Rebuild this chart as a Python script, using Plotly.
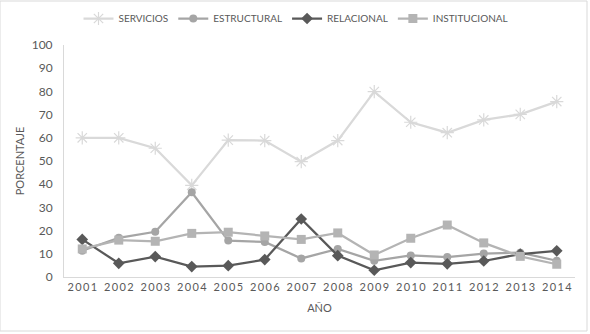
import plotly.graph_objects as go

years = ["2001", "2002", "2003", "2004", "2005", "2006", "2007",
         "2008", "2009", "2010", "2011", "2012", "2013", "2014"]

servicios = [60.0, 60.0, 55.5, 39.5, 59.0, 58.8, 49.7,
             58.8, 79.9, 66.7, 62.2, 67.7, 70.1, 75.6]
estructural = [11.3, 16.9, 19.5, 36.5, 15.7, 15.1, 8.0,
               12.1, 7.0, 9.3, 8.6, 10.1, 10.5, 7.0]
relacional = [16.2, 5.9, 8.8, 4.5, 4.9, 7.5, 25.0,
              9.2, 2.9, 6.2, 5.7, 6.9, 9.9, 11.3]
institucional = [12.1, 15.9, 15.4, 18.8, 19.3, 17.7, 16.2,
                 19.0, 9.5, 16.7, 22.4, 14.7, 8.9, 5.5]

y_ticks = [0, 10, 20, 30, 40, 50, 60, 70, 80, 90, 100]

# wide letter spacing on the year labels
year_labels = ["\u2009".join(y) for y in years]

FONT = "Lato, 'Open Sans', sans-serif"
TEXT = "#595959"

fig = go.Figure()

fig.add_trace(go.Scatter(
    x=years, y=servicios, name="SERVICIOS", mode="lines+markers",
    line=dict(color="#d9d9d9", width=2.25),
    marker=dict(symbol="asterisk-open", size=11,
                line=dict(color="#d9d9d9", width=1.2)),
))
fig.add_trace(go.Scatter(
    x=years, y=estructural, name="ESTRUCTURAL", mode="lines+markers",
    line=dict(color="#a5a5a5", width=2.25),
    marker=dict(symbol="circle", size=8, color="#a5a5a5"),
))
fig.add_trace(go.Scatter(
    x=years, y=relacional, name="RELACIONAL", mode="lines+markers",
    line=dict(color="#595959", width=2.25),
    marker=dict(symbol="diamond", size=9, color="#595959"),
))
fig.add_trace(go.Scatter(
    x=years, y=institucional, name="INSTITUCIONAL", mode="lines+markers",
    line=dict(color="#b4b4b4", width=2.25),
    marker=dict(symbol="square", size=9, color="#b4b4b4"),
))

fig.update_layout(
    width=590, height=334,
    margin=dict(l=64, r=15, t=45, b=57),
    paper_bgcolor="white", plot_bgcolor="white",
    font=dict(family=FONT, size=12, color=TEXT),
    showlegend=True,
    legend=dict(orientation="h", x=(296 - 64) / 511, xanchor="center",
                y=1 - 4 / 334, yanchor="top", yref="container",
                font=dict(size=10, color=TEXT), itemwidth=30,
                traceorder="normal"),
    xaxis=dict(
        type="category", tickmode="array", tickvals=years, ticktext=year_labels,
        range=[-0.5, len(years) - 0.5],
        showline=True, linecolor="#d9d9d9", linewidth=1, automargin=False,
        showgrid=False, ticks="", zeroline=False,
        tickfont=dict(size=11, color=TEXT),
        title=dict(text="AÑO", font=dict(size=11, color=TEXT), standoff=12),
    ),
    yaxis=dict(
        range=[0, 100], tickmode="array", tickvals=y_ticks,
        showline=True, linecolor="#d9d9d9", linewidth=1, automargin=False,
        showgrid=False, ticks="", zeroline=False,
        tickfont=dict(size=12, color=TEXT), ticklabelstandoff=8,
        title=dict(text="PORCENTAJE", font=dict(size=11, color=TEXT), standoff=4),
    ),
    shapes=[dict(type="rect", xref="paper", yref="paper",
                 x0=-64 / 511, x1=(511 + 12) / 511,
                 y0=-54 / 232, y1=(232 + 44) / 232,
                 line=dict(color="#d9d9d9", width=1), fillcolor="rgba(0,0,0,0)")],
)

fig.write_html("out.html")
